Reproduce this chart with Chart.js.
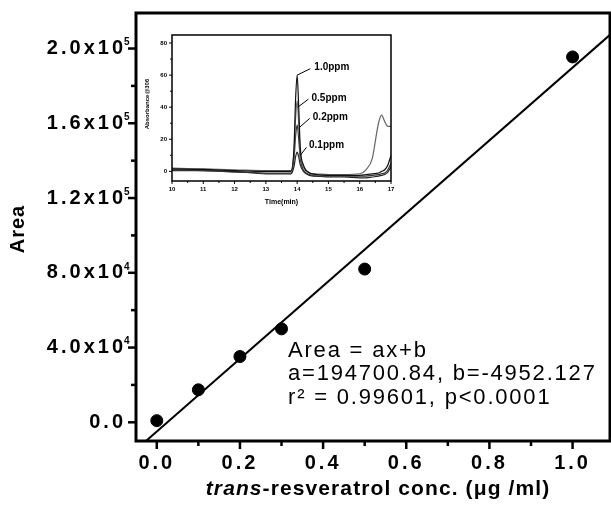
<!DOCTYPE html>
<html>
<head>
<meta charset="utf-8">
<script src="https://cdn.jsdelivr.net/npm/chart.js@4.4.0/dist/chart.umd.min.js"></script>
<style>
    html, body { margin: 0; padding: 0; background: #fff; }
    #wrap { position: relative; width: 611px; height: 505px; }
    #mainChart { position: absolute; left: 0; top: 0; }
    #insetChart { position: absolute; left: 138px; top: 28px; }
</style>
</head>
<body>
<div id="wrap">
    <canvas id="mainChart" width="611" height="505"></canvas>
    <canvas id="insetChart" width="260" height="180"></canvas>
</div>
<script>
// Calibration data (main plot)
const concX = [0, 0.1, 0.2, 0.3, 0.5, 1.0];
const areaY = [900, 17400, 35200, 50000, 82000, 195500];

// Fitted line end points
const fitX = [-0.026, 1.09];
const fitY = [-10000, 207300];

const xTickValues = [0, 0.2, 0.4, 0.6, 0.8, 1.0];
const xTickLabels = ['0.0', '0.2', '0.4', '0.6', '0.8', '1.0'];
const yTickValues = [0, 40000, 80000, 120000, 160000, 200000];
const yTickBase = ['0.0', '4.0x10', '8.0x10', '1.2x10', '1.6x10', '2.0x10'];
const yTickExp = ['', '4', '4', '5', '5', '5'];

const fitText = ['Area = ax+b', 'a=194700.84, b=-4952.127', 'r² = 0.99601, p<0.0001'];

// Inset chromatograms
const insetTime = [10, 11, 12, 13, 13.8, 13.9, 13.95, 14.0, 14.05, 14.1, 14.2, 14.4, 14.6, 15, 15.5, 16, 16.2, 16.4, 16.6, 16.7, 16.8, 16.9, 17];
const ppm10 = [1.5, 1.2, 0.5, 0, 0, 15, 45, 60, 40, 15, 4, -1, -2, -2.5, -2.5, -2.5, -2, -1.5, -1, 0, 1, 4, 10];
const ppm05 = [2, 1.5, 1, 0.5, 0.5, 12, 33, 44, 30, 11, 3, -1, -1.5, -2, -2, -1.5, 1, 8, 30, 35, 31, 28, 28];
const ppm02 = [0.5, 0.5, -0.5, -1, -1, 8, 22, 29, 20, 8, 1, -2, -3, -3, -3, -3, -3, -2.5, -2, -1.5, -1, 1, 5];
const ppm01 = [1, 0.5, 0, -1.5, -1.5, 3, 9, 12, 9, 4, 0, -2.5, -3, -3.5, -3.5, -4, -4, -3.5, -3, -2.5, -2, -0.5, 3];
const peakLabels = ['1.0ppm', '0.5ppm', '0.2ppm', '0.1ppm'];
const insetXTicks = [10, 11, 12, 13, 14, 15, 16, 17];
const insetYTicks = [0, 20, 40, 60, 80];

const FONT = '"Liberation Sans", Arial, sans-serif';

function pairs(xs, ys) {
    return xs.map((x, i) => ({ x: x, y: ys[i] }));
}

// frame, ticks, texts for the main plot
const mainDecor = {
    id: 'mainDecor',
    beforeDraw(chart) {
        chart.ctx.letterSpacing = '3px';
    },
    afterDraw(chart) {
        const ctx = chart.ctx;
        const a = chart.chartArea;
        const xs = chart.scales.x, ys = chart.scales.y;
        ctx.save();
        ctx.strokeStyle = '#000';
        ctx.lineWidth = 3;
        ctx.strokeRect(a.left, a.top, a.right - a.left, a.bottom - a.top);

        // y ticks (major + minor between)
        ctx.lineWidth = 2.5;
        yTickValues.forEach((v, i) => {
            let py = ys.getPixelForValue(v);
            ctx.beginPath(); ctx.moveTo(a.left, py); ctx.lineTo(a.left - 8, py); ctx.stroke();
            if (i < yTickValues.length - 1) {
                py = ys.getPixelForValue((v + yTickValues[i + 1]) / 2);
                ctx.beginPath(); ctx.moveTo(a.left, py); ctx.lineTo(a.left - 5, py); ctx.stroke();
            }
        });
        xTickValues.forEach((v, i) => {
            let px = xs.getPixelForValue(v);
            ctx.beginPath(); ctx.moveTo(px, a.bottom); ctx.lineTo(px, a.bottom + 8); ctx.stroke();
            if (i < xTickValues.length - 1) {
                px = xs.getPixelForValue((v + xTickValues[i + 1]) / 2);
                ctx.beginPath(); ctx.moveTo(px, a.bottom); ctx.lineTo(px, a.bottom + 5); ctx.stroke();
            }
        });

        ctx.fillStyle = '#000';

        // exponents of the y tick labels
        ctx.letterSpacing = '0px';
        ctx.font = 'bold 10px ' + FONT;
        ctx.textAlign = 'left';
        ctx.textBaseline = 'middle';
        yTickValues.forEach((v, i) => {
            if (yTickExp[i]) ctx.fillText(yTickExp[i], a.left - 12, ys.getPixelForValue(v) - 6);
        });

        // regression text
        ctx.font = '22px ' + FONT;
        ctx.letterSpacing = '1.8px';
        ctx.textBaseline = 'alphabetic';
        fitText.forEach((t, i) => ctx.fillText(t, 288, 357 + i * 23.3));

        // x title, "trans" in italic
        ctx.letterSpacing = '1.1px';
        const p1 = 'trans', p2 = '-resveratrol conc. (μg /ml)';
        ctx.font = 'italic bold 21px ' + FONT;
        const w1 = ctx.measureText(p1).width;
        ctx.font = 'bold 21px ' + FONT;
        const w2 = ctx.measureText(p2).width;
        const sx = 378 - (w1 + w2) / 2;
        ctx.font = 'italic bold 21px ' + FONT;
        ctx.fillText(p1, sx, 495);
        ctx.font = 'bold 21px ' + FONT;
        ctx.fillText(p2, sx + w1, 495);

        // y title
        ctx.letterSpacing = '1px';
        ctx.translate(18, 229);
        ctx.rotate(-Math.PI / 2);
        ctx.textAlign = 'center';
        ctx.textBaseline = 'middle';
        ctx.font = 'bold 20px ' + FONT;
        ctx.fillText('Area', 0, 0);
        ctx.restore();
        ctx.letterSpacing = '0px';
    }
};

new Chart(document.getElementById('mainChart').getContext('2d'), {
    type: 'scatter',
    data: {
        datasets: [{
            data: pairs(concX, areaY),
            backgroundColor: '#000',
            borderColor: '#000',
            pointRadius: 6,
            pointHoverRadius: 6
        }, {
            type: 'line',
            data: pairs(fitX, fitY),
            borderColor: '#000',
            borderWidth: 2,
            pointRadius: 0,
            fill: false
        }]
    },
    options: {
        responsive: false,
        animation: false,
        layout: { autoPadding: false, padding: { top: 13, right: 1, left: 0, bottom: 0 } },
        plugins: { legend: { display: false }, tooltip: { enabled: false } },
        scales: {
            x: {
                type: 'linear', min: -0.05, max: 1.09,
                afterFit: s => { s.height = 64; s.paddingLeft = 0; s.paddingRight = 0; },
                afterBuildTicks: s => { s.ticks = xTickValues.map(v => ({ value: v })); },
                grid: { display: false, drawTicks: false },
                border: { display: false },
                ticks: {
                    callback: (v, i) => xTickLabels[i],
                    font: { family: FONT, weight: 'bold', size: 20 },
                    color: '#000', padding: 10, maxRotation: 0, autoSkip: false
                }
            },
            y: {
                type: 'linear', min: -10000, max: 219000,
                afterFit: s => { s.width = 136; s.paddingTop = 0; s.paddingBottom = 0; },
                afterBuildTicks: s => { s.ticks = yTickValues.map(v => ({ value: v })); },
                grid: { display: false, drawTicks: false },
                border: { display: false },
                ticks: {
                    callback: (v, i) => yTickBase[i],
                    font: { family: FONT, weight: 'bold', size: 20 },
                    color: '#000', padding: 10, autoSkip: false
                }
            }
        }
    },
    plugins: [mainDecor]
});

// inset: frame, ticks, titles and peak labels
const insetDecor = {
    id: 'insetDecor',
    afterDraw(chart) {
        const ctx = chart.ctx;
        const a = chart.chartArea;
        const xs = chart.scales.x, ys = chart.scales.y;
        ctx.save();
        ctx.strokeStyle = '#000';
        ctx.lineWidth = 1.5;
        ctx.strokeRect(a.left, a.top, a.right - a.left, a.bottom - a.top);
        ctx.lineWidth = 1;
        insetYTicks.forEach((v, i) => {
            let py = ys.getPixelForValue(v);
            ctx.beginPath(); ctx.moveTo(a.left, py); ctx.lineTo(a.left - 3, py); ctx.stroke();
            if (i < insetYTicks.length - 1) {
                py = ys.getPixelForValue(v + 10);
                ctx.beginPath(); ctx.moveTo(a.left, py); ctx.lineTo(a.left - 2, py); ctx.stroke();
            }
        });
        insetXTicks.forEach((v, i) => {
            let px = xs.getPixelForValue(v);
            ctx.beginPath(); ctx.moveTo(px, a.bottom); ctx.lineTo(px, a.bottom + 3); ctx.stroke();
            if (i < insetXTicks.length - 1) {
                px = xs.getPixelForValue(v + 0.5);
                ctx.beginPath(); ctx.moveTo(px, a.bottom); ctx.lineTo(px, a.bottom + 2); ctx.stroke();
            }
        });

        // peak labels with leader lines (in data coordinates)
        const leaders = [
            [14.0, 60, 14.42, 64, 14.55, 65],
            [14.02, 40, 14.36, 45, 14.46, 45.5],
            [14.05, 27, 14.4, 33, 14.5, 34],
            [14.1, 10, 14.3, 15, 14.38, 16]
        ];
        ctx.fillStyle = '#000';
        ctx.font = 'bold 10px ' + FONT;
        ctx.textBaseline = 'middle';
        ctx.textAlign = 'left';
        ctx.lineWidth = 1;
        leaders.forEach((l, i) => {
            ctx.beginPath();
            ctx.moveTo(xs.getPixelForValue(l[0]), ys.getPixelForValue(l[1]));
            ctx.lineTo(xs.getPixelForValue(l[2]), ys.getPixelForValue(l[3]));
            ctx.stroke();
            ctx.fillText(peakLabels[i], xs.getPixelForValue(l[4]), ys.getPixelForValue(l[5]));
        });

        ctx.textAlign = 'center';
        ctx.font = 'bold 7px ' + FONT;
        ctx.fillText('Time(min)', (a.left + a.right) / 2, 174);
        ctx.translate(9, 76);
        ctx.rotate(-Math.PI / 2);
        ctx.font = 'bold 6px ' + FONT;
        ctx.fillText('Absorbance@306', 0, 0);
        ctx.restore();
    }
};

const insetColors = ['#111', '#666', '#333', '#222'];
const insetSeries = [ppm10, ppm05, ppm02, ppm01];

new Chart(document.getElementById('insetChart').getContext('2d'), {
    type: 'line',
    data: {
        datasets: insetSeries.map((s, i) => ({
            data: pairs(insetTime, s),
            borderColor: insetColors[i],
            borderWidth: 1.2,
            pointRadius: 0,
            cubicInterpolationMode: 'monotone',
            fill: false
        }))
    },
    options: {
        responsive: false,
        animation: false,
        layout: { autoPadding: false, padding: { top: 7, right: 7, left: 0, bottom: 0 } },
        plugins: { legend: { display: false }, tooltip: { enabled: false } },
        scales: {
            x: {
                type: 'linear', min: 10, max: 17,
                afterFit: s => { s.height = 27; s.paddingLeft = 0; s.paddingRight = 0; },
                afterBuildTicks: s => { s.ticks = insetXTicks.map(v => ({ value: v })); },
                grid: { display: false, drawTicks: false },
                border: { display: false },
                ticks: {
                    font: { family: FONT, weight: 'bold', size: 6 },
                    color: '#000', padding: 5, maxRotation: 0, autoSkip: false
                }
            },
            y: {
                type: 'linear', min: -6, max: 85,
                afterFit: s => { s.width = 34; s.paddingTop = 0; s.paddingBottom = 0; },
                afterBuildTicks: s => { s.ticks = insetYTicks.map(v => ({ value: v })); },
                grid: { display: false, drawTicks: false },
                border: { display: false },
                ticks: {
                    font: { family: FONT, weight: 'bold', size: 6 },
                    color: '#000', padding: 5, autoSkip: false
                }
            }
        }
    },
    plugins: [insetDecor]
});
</script>
</body>
</html>
